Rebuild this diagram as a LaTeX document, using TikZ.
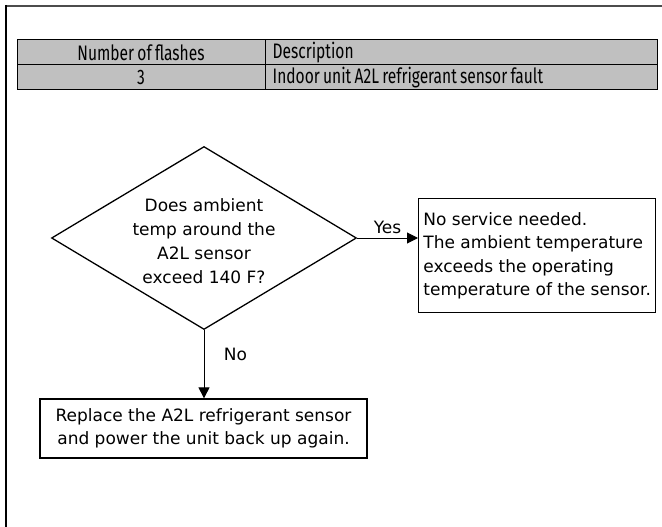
\documentclass[tikz,border=0pt]{standalone}
\usepackage{fontspec}
\setmainfont{DejaVu Sans}
\newfontfamily\condfont[FakeStretch=0.74,WordSpace=0.8]{Fira Sans}
\usetikzlibrary{shapes.geometric,arrows.meta}
\definecolor{tblgray}{RGB}{192,192,192}
\begin{document}
\begin{tikzpicture}[x=1pt,y=-1pt,
  cell/.style={draw, line width=1pt, fill=tblgray, minimum height=25pt, inner ysep=0pt,
               font=\condfont\fontsize{21}{22}\selectfont},
  celltext/.style={anchor=west, inner xsep=0pt, font=\condfont\fontsize{21}{22}\selectfont},
  box/.style={draw, line width=1.3pt},
  lbl/.style={font=\fontsize{17}{23.5}\selectfont},
  arr/.style={-{Triangle[length=11pt,width=11pt]}, line width=1pt}]
\useasboundingbox (0,0) rectangle (662,527);
% outer frame
\draw[gray!60!black, line width=2pt] (5,6) -- (662,6);
\draw[line width=1.5pt] (6,5) -- (6,527);
% table
\node[cell, minimum width=248pt] (h1) at (141,52.5) {Number of flashes};
\node[cell, minimum width=392pt] (h2) at (461,52.5) {};
\node[celltext] (h2t) at ([xshift=8pt]h2.west) {Description};
\node[cell, minimum width=248pt] (r1) at (141,77.5) {3};
\node[cell, minimum width=392pt] (r2) at (461,77.5) {};
\node[celltext] (r2t) at ([xshift=8pt]r2.west) {Indoor unit A2L refrigerant sensor fault};
% decision
\node[box, diamond, minimum width=305pt, minimum height=183pt, inner sep=0pt] (q) at (204,238) {};
\node[lbl, align=center, font=\fontsize{17}{24}\selectfont] (qt) at (204,241) {Does ambient\\temp around the\\A2L sensor\\exceed 140 F?};
% yes box
\node[box, lbl, anchor=north west, minimum height=114pt, minimum width=237pt, inner xsep=4pt, align=left] (yesbox) at (418,198)
  {No service needed.\\The ambient temperature\\exceeds the operating\\temperature of the sensor.};
% no box
\node[box, lbl, minimum width=327pt, minimum height=59pt, align=center, font=\fontsize{17}{22.5}\selectfont] (fix) at (203.5,428.5)
  {Replace the A2L refrigerant sensor\\and power the unit back up again.};
% connectors
\draw[arr] (q.east) -- node[lbl, above=0pt] (yes) {Yes} (q.east -| yesbox.west);
\draw[arr] (q.south) -- node[lbl, pos=0.35, right=16pt] (no) {No} (q.south |- fix.north);
\end{tikzpicture}
\end{document}
